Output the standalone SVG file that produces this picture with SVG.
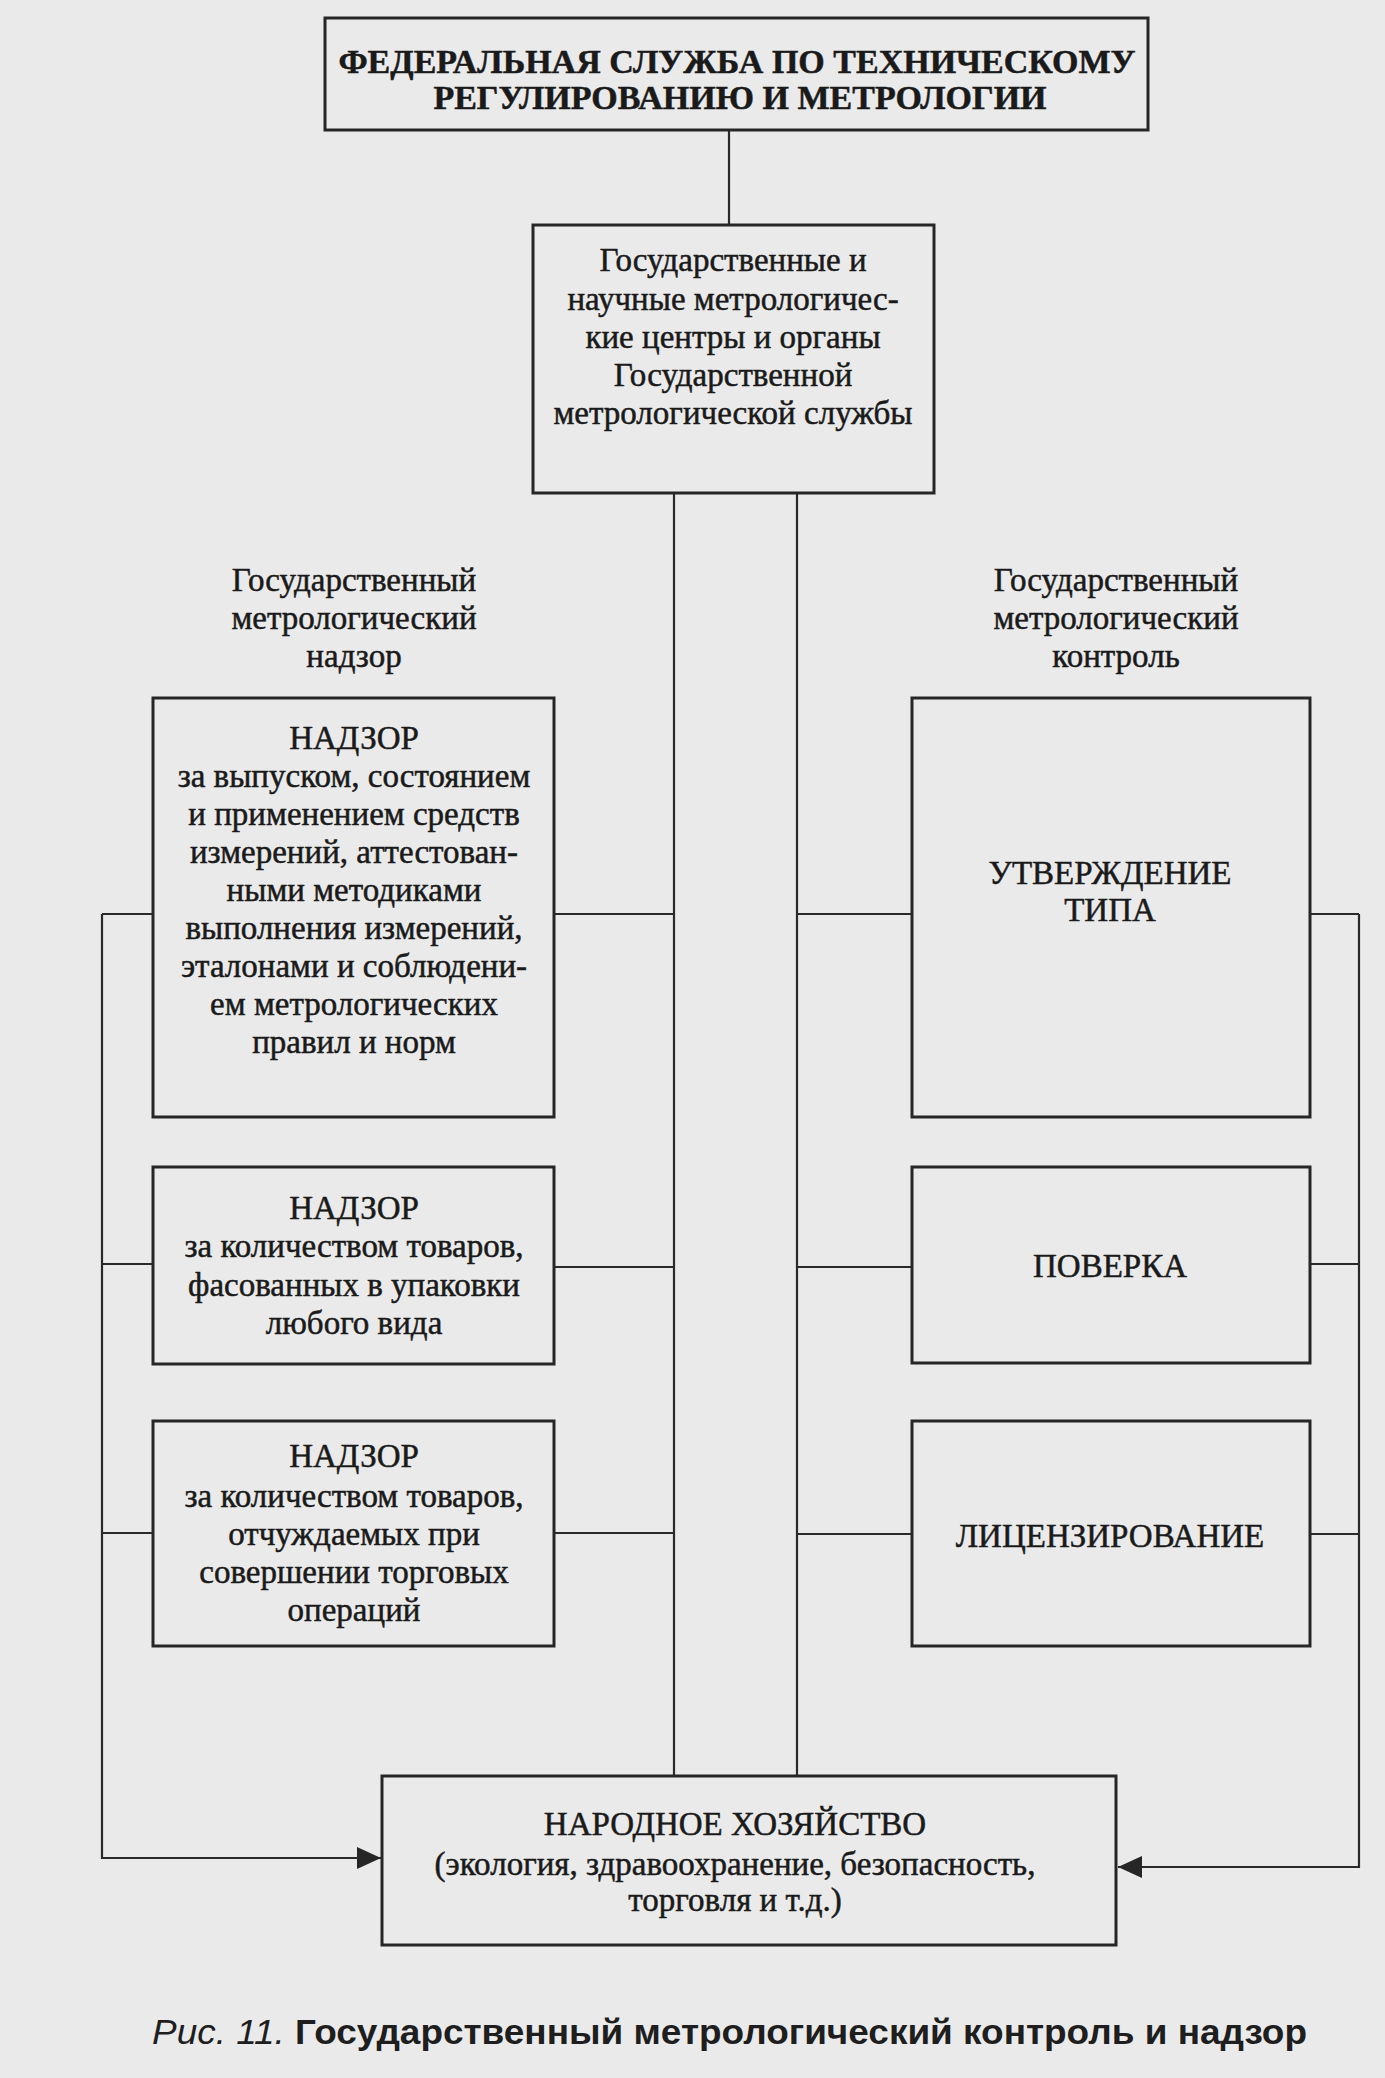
<svg xmlns="http://www.w3.org/2000/svg" width="1385" height="2078" viewBox="0 0 1385 2078">
<style>
.box{fill:none;stroke:#262626;stroke-width:3}
.ln{fill:none;stroke:#2a2a2a;stroke-width:2.2}
.t{font-family:"Liberation Serif","Times New Roman",serif;font-size:33px;fill:#1a1a1a;stroke:#1a1a1a;stroke-width:0.5;text-anchor:middle}
.b{font-weight:bold;font-size:34px}
.cap{font-family:"Liberation Sans",Arial,sans-serif;font-size:35px;fill:#1e1e1e;font-weight:bold}
</style>
<defs>
<marker id="arr" viewBox="0 0 24 24" refX="24" refY="12" markerWidth="24" markerHeight="24" markerUnits="userSpaceOnUse" orient="auto">
<path d="M0,1 L24,12 L0,23 Z" fill="#262626"/>
</marker>
</defs>
<rect width="1385" height="2078" fill="#eaeaea"/>
<g id="connectors">
<line class="ln" x1="729" y1="130" x2="729" y2="225"/>
<line class="ln" x1="674" y1="493" x2="674" y2="1776"/>
<line class="ln" x1="797" y1="493" x2="797" y2="1776"/>
<line class="ln" x1="102" y1="914" x2="153" y2="914"/>
<line class="ln" x1="554" y1="914" x2="674" y2="914"/>
<line class="ln" x1="797" y1="914" x2="912" y2="914"/>
<line class="ln" x1="1310" y1="914" x2="1359" y2="914"/>
<line class="ln" x1="102" y1="1264" x2="153" y2="1264"/>
<line class="ln" x1="554" y1="1267" x2="674" y2="1267"/>
<line class="ln" x1="797" y1="1267" x2="912" y2="1267"/>
<line class="ln" x1="1310" y1="1264" x2="1359" y2="1264"/>
<line class="ln" x1="102" y1="1533" x2="153" y2="1533"/>
<line class="ln" x1="554" y1="1533" x2="674" y2="1533"/>
<line class="ln" x1="797" y1="1534" x2="912" y2="1534"/>
<line class="ln" x1="1310" y1="1534" x2="1359" y2="1534"/>
<polyline class="ln" points="102,914 102,1858 381,1858" marker-end="url(#arr)"/>
<polyline class="ln" points="1359,914 1359,1867 1118,1867" marker-end="url(#arr)"/>
</g>
<g id="fed">
<rect class="box" x="325" y="18" width="823" height="112"/>
<text class="t b" x="737" y="73">ФЕДЕРАЛЬНАЯ СЛУЖБА ПО ТЕХНИЧЕСКОМУ</text>
<text class="t b" x="740" y="109">РЕГУЛИРОВАНИЮ И МЕТРОЛОГИИ</text>
</g>
<g id="centers">
<rect class="box" x="533" y="225" width="401" height="268"/>
<text class="t" x="733" y="271">Государственные и</text>
<text class="t" x="733" y="310">научные метрологичес-</text>
<text class="t" x="733" y="348">кие центры и органы</text>
<text class="t" x="733" y="386">Государственной</text>
<text class="t" x="733" y="424">метрологической службы</text>
</g>
<g id="label-left">
<text class="t" x="354" y="591">Государственный</text>
<text class="t" x="354" y="629">метрологический</text>
<text class="t" x="354" y="667">надзор</text>
</g>
<g id="label-right">
<text class="t" x="1116" y="591">Государственный</text>
<text class="t" x="1116" y="629">метрологический</text>
<text class="t" x="1116" y="667">контроль</text>
</g>
<g id="nadzor1">
<rect class="box" x="153" y="698" width="401" height="419"/>
<text class="t" x="354" y="749">НАДЗОР</text>
<text class="t" x="354" y="787">за выпуском, состоянием</text>
<text class="t" x="354" y="825">и применением средств</text>
<text class="t" x="354" y="863">измерений, аттестован-</text>
<text class="t" x="354" y="901">ными методиками</text>
<text class="t" x="354" y="939">выполнения измерений,</text>
<text class="t" x="354" y="977">эталонами и соблюдени-</text>
<text class="t" x="354" y="1015">ем метрологических</text>
<text class="t" x="354" y="1053">правил и норм</text>
</g>
<g id="utv">
<rect class="box" x="912" y="698" width="398" height="419"/>
<text class="t" x="1110" y="884">УТВЕРЖДЕНИЕ</text>
<text class="t" x="1110" y="921">ТИПА</text>
</g>
<g id="nadzor2">
<rect class="box" x="153" y="1167" width="401" height="197"/>
<text class="t" x="354" y="1219">НАДЗОР</text>
<text class="t" x="354" y="1257">за количеством товаров,</text>
<text class="t" x="354" y="1296">фасованных в упаковки</text>
<text class="t" x="354" y="1334">любого вида</text>
</g>
<g id="poverka">
<rect class="box" x="912" y="1167" width="398" height="196"/>
<text class="t" x="1110" y="1277">ПОВЕРКА</text>
</g>
<g id="nadzor3">
<rect class="box" x="153" y="1421" width="401" height="225"/>
<text class="t" x="354" y="1467">НАДЗОР</text>
<text class="t" x="354" y="1507">за количеством товаров,</text>
<text class="t" x="354" y="1545">отчуждаемых при</text>
<text class="t" x="354" y="1583">совершении торговых</text>
<text class="t" x="354" y="1621">операций</text>
</g>
<g id="licenz">
<rect class="box" x="912" y="1421" width="398" height="225"/>
<text class="t" x="1110" y="1547">ЛИЦЕНЗИРОВАНИЕ</text>
</g>
<g id="economy">
<rect class="box" x="382" y="1776" width="734" height="169"/>
<text class="t" x="735" y="1835">НАРОДНОЕ ХОЗЯЙСТВО</text>
<text class="t" x="735" y="1875">(экология, здравоохранение, безопасность,</text>
<text class="t" x="735" y="1911">торговля и т.д.)</text>
</g>
<text class="cap" x="152" y="2044" textLength="1155" lengthAdjust="spacingAndGlyphs"><tspan font-style="italic" font-weight="normal">Рис. 11.</tspan> Государственный метрологический контроль и надзор</text>
</svg>
